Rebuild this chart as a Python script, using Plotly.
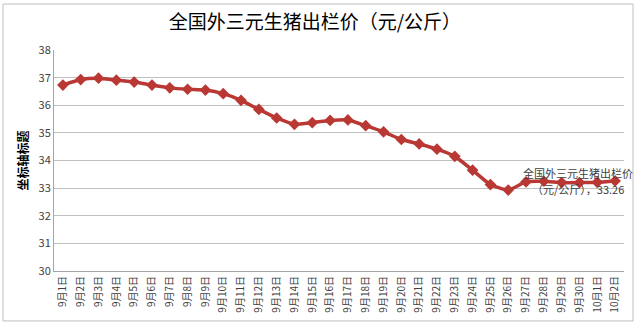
import plotly.graph_objects as go

dates = ["9月1日", "9月2日", "9月3日", "9月4日", "9月5日", "9月6日", "9月7日", "9月8日",
         "9月9日", "9月10日", "9月11日", "9月12日", "9月13日", "9月14日", "9月15日", "9月16日",
         "9月17日", "9月18日", "9月19日", "9月20日", "9月21日", "9月22日", "9月23日", "9月24日",
         "9月25日", "9月26日", "9月27日", "9月28日", "9月29日", "9月30日", "10月1日", "10月2日"]
prices = [36.73, 36.93, 36.98, 36.91, 36.84, 36.73, 36.63, 36.58,
          36.55, 36.42, 36.18, 35.85, 35.54, 35.31, 35.37, 35.45,
          35.47, 35.26, 35.04, 34.76, 34.60, 34.41, 34.15, 33.65,
          33.13, 32.93, 33.23, 33.25, 33.20, 33.20, 33.21, 33.26]
title_text = "全国外三元生猪出栏价（元/公斤）"
series_name = "全国外三元生猪出栏价"
series_unit = "（元/公斤）"
y_title = "坐标轴标题"
y_ticks = [30, 31, 32, 33, 34, 35, 36, 37, 38]

FONT = "Noto Sans CJK SC, Microsoft YaHei, sans-serif"
RED = "#BA3834"

fig = go.Figure()
fig.add_trace(go.Scatter(
    x=dates, y=prices, mode="lines+markers",
    line=dict(color=RED, width=3.5, shape="spline", smoothing=0.5),
    marker=dict(symbol="diamond", size=9, color=RED),
    showlegend=False, hoverinfo="x+y",
))

# data label split over two lines (as in the reference)
fig.add_annotation(
    x=dates[-1], y=prices[-1], xref="x", yref="y",
    text=series_name, showarrow=False,
    xanchor="center", yanchor="middle", xshift=-37, yshift=8,
    font=dict(family=FONT, size=11, color="#404040"),
)
fig.add_annotation(
    x=dates[-1], y=prices[-1], xref="x", yref="y",
    text=f"{series_unit}，{prices[-1]:.2f}", showarrow=False,
    xanchor="center", yanchor="middle", xshift=-37, yshift=-8,
    font=dict(family=FONT, size=11, color="#404040"),
)

fig.add_annotation(
    x=-0.056, y=0.5, xref="paper", yref="paper",
    text="<b>" + y_title + "</b>", textangle=-90, showarrow=False,
    xanchor="center", yanchor="middle",
    font=dict(family=FONT, size=12, color="#000000"),
)

# chart-area border
fig.add_shape(type="rect", xref="paper", yref="paper",
              x0=-0.0895, x1=1.0158, y0=-0.226, y1=1.208,
              line=dict(color="#BDBDBD", width=1), fillcolor="rgba(0,0,0,0)",
              layer="below")

fig.update_layout(
    width=640, height=330,
    margin=dict(l=54, r=16, t=50, b=59),
    paper_bgcolor="white", plot_bgcolor="white",
    title=dict(text=title_text, x=0.492, xanchor="center", y=1 - 22 / 330,
               yanchor="middle", yref="container",
               font=dict(family=FONT, size=19, color="#000000")),
    font=dict(family=FONT),
)

fig.update_xaxes(
    type="category", tickangle=-90, showgrid=False,
    showline=True, linecolor="#A6A6A6", linewidth=1,
    ticks="", tickfont=dict(family=FONT, size=10, color="#404040"),
    range=[-0.5, len(dates) - 0.5],
)
fig.update_yaxes(
    range=[30, 38.001], tickvals=y_ticks, ticktext=[str(v) for v in y_ticks],
    showgrid=True, gridcolor="#BFBFBF", gridwidth=1,
    showline=True, linecolor="#A6A6A6", linewidth=1,
    zeroline=False, ticks="",
    tickfont=dict(family=FONT, size=11, color="#404040"),
)

fig.write_html("out.html")
